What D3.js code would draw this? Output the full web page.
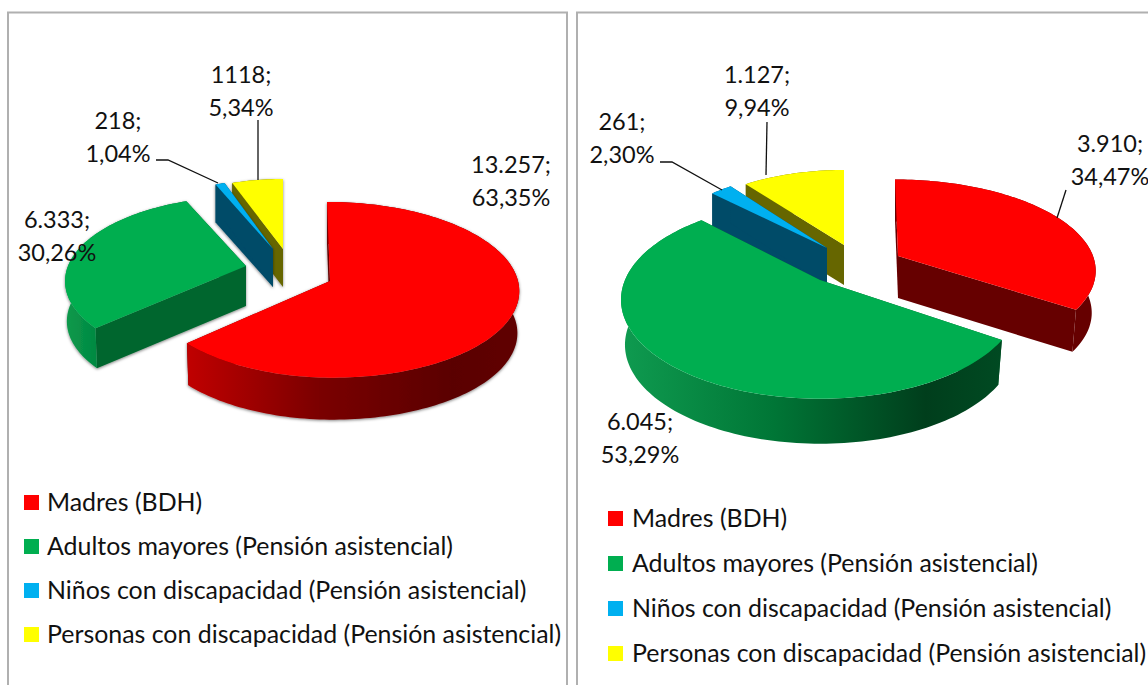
<!DOCTYPE html>
<html><head><meta charset="utf-8">
<script src="https://cdn.jsdelivr.net/npm/d3@7/dist/d3.min.js"></script>
<style>html,body{margin:0;padding:0;background:#fff;overflow:hidden}svg{display:block}text{font-family:Lato,"Open Sans",sans-serif;fill:#111}</style>
</head><body><svg id="c" width="1148" height="685"></svg>
<script>
const categories=["Madres (BDH)","Adultos mayores (Pensión asistencial)","Niños con discapacidad (Pensión asistencial)","Personas con discapacidad (Pensión asistencial)"];
const valuesLeft=[13257,6333,218,1118];
const valuesRight=[3910,6045,261,1127];
const valueLabelsLeft=["13.257;","6.333;","218;","1118;"];
const valueLabelsRight=["3.910;","6.045;","261;","1.127;"];
const pctLabelsLeft=["63,35%","30,26%","1,04%","5,34%"];
const pctLabelsRight=["34,47%","53,29%","2,30%","9,94%"];
const topColors=["#ff0000","#00ae50","#00b0f0","#ffff00"];
const cutColors=["#660000","#00662f","#004b68","#666600"];
const wallStops=[
 [["#c00000","#7a0000","#5a0000","#600000"],["#660000","#660000","#660000","#660000"]],
 [["#0a9a4c","#00803c","#00662f","#00662f"],["#0f9b50","#007636","#003e1c","#004a22"]],
 [["#004b68","#004b68","#004b68","#004b68"],["#004b68","#004b68","#004b68","#004b68"]],
 [["#666600","#666600","#666600","#666600"],["#666600","#666600","#666600","#666600"]]];

// slice placement in each exploded 3D pie
const placeLeft=[
 {cx:330,cy:281,rx:188,rxl:182,ry:87,p:.1,d:42,lean:3,taper:.99},
 {cx:246,cy:266,rx:178,ry:82,p:.18,d:40,lean:0,taper:.99},
 {cx:273,cy:249,rx:147,ry:70,p:0,d:38,lean:0,taper:1},
 {cx:283,cy:249,rx:154,ry:70,p:0,d:38,lean:0,taper:1}];
const placeRight=[
 {cx:898,cy:256,rx:195,ry:88,p:.15,d:42,lean:3,taper:.98},
 {cx:820,cy:280,rx:195,ry:95,p:.2,d:45,lean:0,taper:.98},
 {cx:827,cy:248,rx:165,ry:76,p:0,d:37,lean:0,taper:1},
 {cx:844,cy:245,rx:168,ry:75,p:0,d:40,lean:0,taper:1}];
const labelPosLeft=[[511,165],[57,220],[118,121],[241,75]];
const labelPosRight=[[1110,144],[640,422],[622,122],[757,75]];
const leadersLeft=[null,null,[[156,160],[168,160],[218,183]],[[258,120],[258,180]]];
const leadersRight=[[[1066,190],[1057,218]],null,[[660,162],[672,162],[722,190]],[[767,122],[766,175]]];
const framesX=[[8,567],[577,1160]];
const legendLeft={sx:24,tx:47,ys:[502,546,590,634]};
const legendRight={sx:608,tx:632,ys:[518,563,608,653]};

const svg=d3.select("#c"),defs=svg.append("defs");
const f=defs.append("filter").attr("id","sh").attr("x","-10%").attr("y","-10%").attr("width","120%").attr("height","120%");
f.append("feDropShadow").attr("dx",0).attr("dy",1).attr("stdDeviation",1.6).attr("flood-color","#000").attr("flood-opacity",.5);

framesX.forEach(([a,b])=>{
 svg.append("path").attr("d",d3.line()([[a,690],[a,12.5],[b,12.5],[b,690]])).attr("fill","none").attr("stroke","#b0b0b0").attr("stroke-width",2);
});
const pie=d3.pie().sort(null).startAngle(0).endAngle(2*Math.PI);
const line=d3.line();

function project(pl,t,r,drop){
 const x=r*Math.sin(t),y=r*Math.cos(t),s=1/(1+pl.p*y);
 const rx=x<0&&pl.rxl?pl.rxl:pl.rx;
 const k=drop?pl.taper:1;
 return [pl.cx+(rx*x*s-pl.lean*y)*k, pl.cy-pl.ry*y*s+(drop||0)];
}
function drawPie(id,values,place,vLabels,pLabels,labelPos,leaders,legend,gIdx,shadow){
 const arcs=pie(values);
 const root=svg.append("g").attr("class",id);
 [3,2,1,0].forEach(i=>{
  const a=arcs[i],pl=place[i];
  const ts=d3.range(0,1.0001,1/Math.max(4,Math.ceil((a.endAngle-a.startAngle)*40))).map(u=>d3.interpolateNumber(a.startAngle,a.endAngle)(u));
  const g=root.append("g");
  if(shadow)g.attr("filter","url(#sh)");
  const rim=ts.map(t=>project(pl,t,1)),low=ts.map(t=>project(pl,t,1,pl.d));
  const xs=d3.extent(rim,d=>d[0]);
  const gid=id+"w"+i;
  const lg=defs.append("linearGradient").attr("id",gid).attr("gradientUnits","userSpaceOnUse")
   .attr("x1",xs[0]).attr("x2",xs[1]).attr("y1",0).attr("y2",0);
  wallStops[i][gIdx].forEach((c,k)=>lg.append("stop").attr("offset",[0,.4,.8,1][k]).attr("stop-color",c));
  const c0=[pl.cx,pl.cy],c1=[pl.cx,pl.cy+pl.d];
  [a.startAngle,a.endAngle].forEach(t=>{
   const p0=project(pl,t,1),p1=project(pl,t,1,pl.d);
   g.append("path").attr("d",line([c0,p0,p1,c1])+"Z").attr("fill",cutColors[i]);
  });
  g.append("path").attr("d",line(rim.concat(low.slice().reverse()))+"Z").attr("fill","url(#"+gid+")");
  g.append("path").attr("d",line([c0].concat(rim))+"Z").attr("fill",topColors[i]);
 });
 leaders.forEach(l=>{if(l)root.append("path").attr("d",line(l)).attr("fill","none").attr("stroke","#111").attr("stroke-width",1.3);});
 labelPos.forEach(([x,y],i)=>{
  const t=root.append("text").attr("text-anchor","middle").attr("font-size",23.5);
  t.append("tspan").attr("x",x).attr("y",y+8).text(vLabels[i]);
  t.append("tspan").attr("x",x).attr("y",y+41).text(pLabels[i]);
 });
 categories.forEach((c,i)=>{
  const y=legend.ys[i];
  root.append("rect").attr("x",legend.sx).attr("y",y-7).attr("width",15).attr("height",15).attr("fill",topColors[i]);
  root.append("text").attr("x",legend.tx).attr("y",y+9).attr("font-size",24.9).text(c);
 });
}
drawPie("L",valuesLeft,placeLeft,valueLabelsLeft,pctLabelsLeft,labelPosLeft,leadersLeft,legendLeft,0,true);
drawPie("R",valuesRight,placeRight,valueLabelsRight,pctLabelsRight,labelPosRight,leadersRight,legendRight,1,false);
</script></body></html>
